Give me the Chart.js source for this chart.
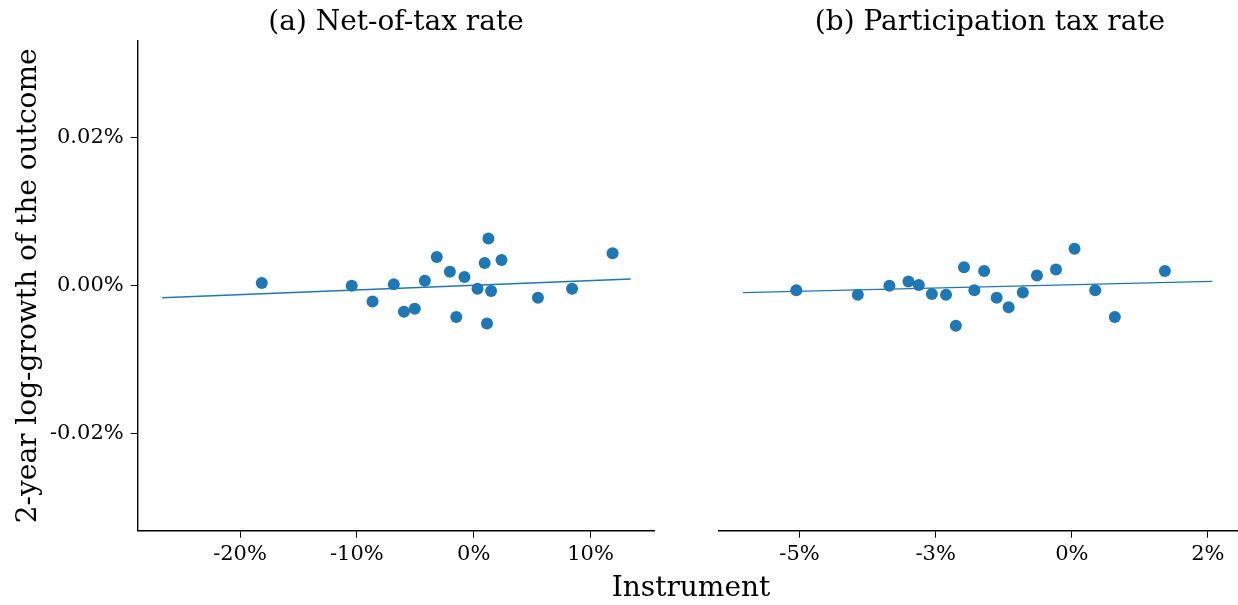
<!DOCTYPE html>
<html>
<head>
<meta charset="utf-8">
<script src="https://cdn.jsdelivr.net/npm/chart.js@4/dist/chart.umd.min.js"></script>
<style>
    html, body { margin: 0; padding: 0; background: #fff; overflow: hidden; }
    body { width: 1238px; height: 605px; position: relative; }
    #wrapA { position: absolute; left: 0; top: 0; width: 680px; height: 605px; }
    #wrapB { position: absolute; left: 680px; top: 0; width: 600px; height: 605px; }
    #xTitle {
        position: absolute; left: 591px; top: 573px; width: 200px;
        text-align: center; font-family: 'DejaVu Serif', serif; font-size: 28px;
        line-height: 28px; color: #000;
    }
</style>
</head>
<body>
<div id="wrapA"><canvas id="chartA" width="680" height="605"></canvas></div>
<div id="wrapB"><canvas id="chartB" width="600" height="605"></canvas></div>
<div id="xTitle">Instrument</div>
<script>
// Valeurs (en %)
const netX = [-18.14, -10.44, -8.66, -6.84, -5.97, -5.04, -4.18, -3.16, -2.04, -1.49,
              -0.79, 0.33, 0.94, 1.26, 1.14, 1.49, 2.38, 5.50, 8.42, 11.89];
const netY = [0.0004, 0.0000, -0.0021, 0.0002, -0.0035, -0.0031, 0.0007, 0.0039, 0.0019, -0.0042,
              0.0012, -0.0004, 0.0031, 0.0064, -0.0051, -0.0007, 0.0035, -0.0016, -0.0004, 0.0044];
const netFitX = [-26.66, 13.44];
const netFitY = [-0.0016, 0.00092];

const partX = [-5.06, -3.93, -3.35, -3.00, -2.81, -2.57, -2.31, -2.13, -1.98, -1.79,
               -1.61, -1.38, -1.16, -0.90, -0.64, -0.29, 0.05, 0.43, 0.79, 1.71];
const partY = [-0.0006, -0.0012, 0.0000, 0.0006, 0.0001, -0.0011, -0.0012, -0.0054, 0.0025, -0.0006,
               0.0020, -0.0016, -0.0029, -0.0009, 0.0014, 0.0022, 0.0050, -0.0006, -0.0042, 0.0020];
const partFitX = [-6.04, 2.58];
const partFitY = [-0.00092, 0.00061];

const yTicks = [-0.02, 0, 0.02];
const yTickLabels = ['-0.02%', '0.00%', '0.02%'];
const netTicks = [-20, -10, 0, 10];
const netTickLabels = ['-20%', '-10%', '0%', '10%'];
const partTicks = [-5, -2.5, 0, 2.5];
const partTickLabels = ['-5%', '-3%', '0%', '2%'];

const BLUE = '#1f77b4';
const SERIF = "'DejaVu Serif', serif";

const makePanel = (id, cfg) => {
    const ctx = document.getElementById(id).getContext('2d');
    return new Chart(ctx, {
        type: 'scatter',
        data: {
            datasets: [
                {
                    type: 'line',
                    data: cfg.fitX.map((x, i) => ({ x: x, y: cfg.fitY[i] })),
                    borderColor: BLUE, borderWidth: 1.4, pointRadius: 0, fill: false
                },
                {
                    data: cfg.xs.map((x, i) => ({ x: x, y: cfg.ys[i] })),
                    backgroundColor: BLUE, borderWidth: 0, pointRadius: 6
                }
            ]
        },
        options: {
            responsive: false,
            animation: false,
            layout: { padding: { left: cfg.padLeft, right: cfg.padRight, top: 0, bottom: 0 } },
            plugins: {
                legend: { display: false },
                tooltip: { enabled: false },
                title: {
                    display: true, text: cfg.title, fullSize: false, color: '#000',
                    font: { family: SERIF, size: 28, weight: 'normal' },
                    padding: { top: 6, bottom: 1.4 }
                }
            },
            scales: {
                x: {
                    type: 'linear', min: cfg.xMin, max: cfg.xMax,
                    afterBuildTicks: (s) => { s.ticks = cfg.ticks.map(v => ({ value: v })); },
                    afterFit: (s) => { s.height = 74.3; },
                    grid: { display: true, drawOnChartArea: false, drawTicks: true, tickLength: 7, color: '#000', lineWidth: 1 },
                    border: { display: true, color: '#000', width: 1.4 },
                    ticks: {
                        color: '#000', padding: 4, maxRotation: 0, autoSkip: false,
                        font: { family: SERIF, size: 21 },
                        callback: (v, i) => cfg.labels[i]
                    }
                },
                y: {
                    type: 'linear', min: -0.0331, max: 0.0331,
                    display: cfg.showY,
                    afterBuildTicks: (s) => { s.ticks = yTicks.map(v => ({ value: v })); },
                    afterFit: (s) => { if (cfg.showY) s.width = 137.7; },
                    grid: { display: true, drawOnChartArea: false, drawTicks: true, tickLength: 7, color: '#000', lineWidth: 1 },
                    border: { display: true, color: '#000', width: 1.4 },
                    title: {
                        display: true, text: '2-year log-growth of the outcome', color: '#000',
                        font: { family: SERIF, size: 28 }, padding: { top: 12, bottom: 0 }
                    },
                    ticks: {
                        color: '#000', padding: 7, autoSkip: false,
                        font: { family: SERIF, size: 21 },
                        callback: (v, i) => yTickLabels[i]
                    }
                }
            }
        }
    });
};

makePanel('chartA', {
    title: '(a) Net-of-tax rate',
    xs: netX, ys: netY, fitX: netFitX, fitY: netFitY,
    ticks: netTicks, labels: netTickLabels,
    xMin: -28.76, xMax: 15.46, showY: true, padLeft: 0, padRight: 25.7
});

makePanel('chartB', {
    title: '(b) Participation tax rate',
    xs: partX, ys: partY, fitX: partFitX, fitY: partFitY,
    ticks: partTicks, labels: partTickLabels,
    xMin: -6.48, xMax: 3.475, showY: false, padLeft: 39, padRight: 19
});
</script>
</body>
</html>
